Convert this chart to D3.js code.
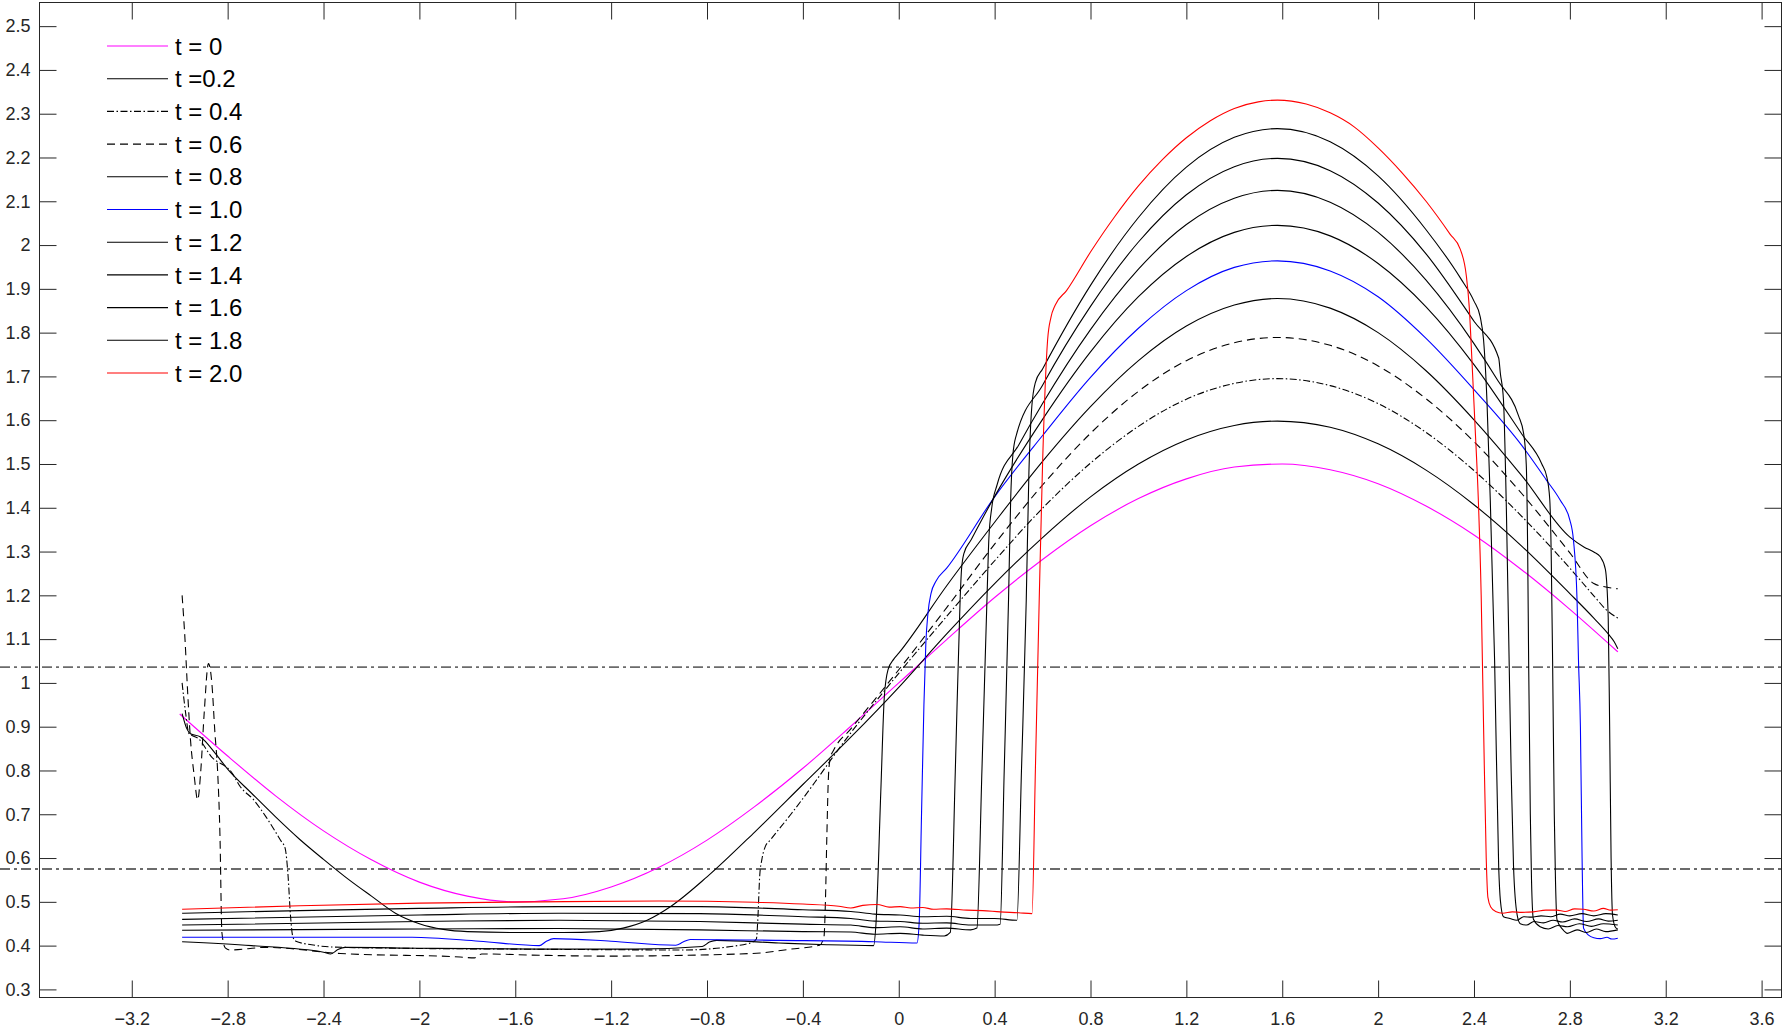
<!DOCTYPE html>
<html>
<head>
<meta charset="utf-8">
<script src="https://cdn.jsdelivr.net/npm/d3@7"></script>
<style>
body { margin: 0; background: #fff; }
svg { display: block; font-family: "Liberation Sans", Arial, Helvetica, sans-serif; }
</style>
</head>
<body>
<div id="chart"></div>
<script>
// tick values and labels
var xTicks = [-3.2, -2.8, -2.4, -2, -1.6, -1.2, -0.8, -0.4, 0, 0.4, 0.8, 1.2, 1.6, 2, 2.4, 2.8, 3.2, 3.6];
var xTickLabels = ["\u22123.2", "\u22122.8", "\u22122.4", "\u22122", "\u22121.6", "\u22121.2", "\u22120.8", "\u22120.4", "0", "0.4", "0.8", "1.2", "1.6", "2", "2.4", "2.8", "3.2", "3.6"];
var yTicks = [0.3, 0.4, 0.5, 0.6, 0.7, 0.8, 0.9, 1, 1.1, 1.2, 1.3, 1.4, 1.5, 1.6, 1.7, 1.8, 1.9, 2, 2.1, 2.2, 2.3, 2.4, 2.5];
var yTickLabels = ["0.3", "0.4", "0.5", "0.6", "0.7", "0.8", "0.9", "1", "1.1", "1.2", "1.3", "1.4", "1.5", "1.6", "1.7", "1.8", "1.9", "2", "2.1", "2.2", "2.3", "2.4", "2.5"];

// horizontal reference levels
var refLevels = [1.036, 0.575];

// legend
var legendLabels = ["t = 0", "t =0.2", "t = 0.4", "t = 0.6", "t = 0.8", "t = 1.0", "t = 1.2", "t = 1.4", "t = 1.6", "t = 1.8", "t = 2.0"];
var seriesColors = ["#ff00ff", "#000", "#000", "#000", "#000", "#0000ff", "#000", "#000", "#000", "#000", "#ff0000"];
var seriesDash = [null, null, "7,2.5,1.5,2.5", "8,5", null, null, null, null, null, null, null];

// curves, [x, u]
var t00 = [[-3.0,0.929],[-2.8,0.833],[-2.6,0.742],[-2.4,0.662],[-2.2,0.596],[-2.0,0.545],[-1.8,0.513],[-1.6,0.500],[-1.4,0.507],[-1.2,0.534],[-1.0,0.579],[-0.8,0.641],[-0.6,0.718],[-0.4,0.805],[-0.2,0.901],[0,1.0],[0.2,1.099],[0.4,1.195],[0.6,1.282],[0.8,1.359],[1.0,1.421],[1.2,1.466],[1.4,1.493],[1.6,1.500],[1.8,1.487],[2.0,1.455],[2.2,1.404],[2.4,1.338],[2.6,1.258],[2.8,1.168],[3.0,1.071]];

var t02 = [[-2.99,0.93],[-2.97,0.895],[-2.955,0.884],[-2.915,0.877],[-2.85,0.838],[-2.8,0.803],[-2.7,0.748],[-2.6,0.694],[-2.5,0.643],[-2.4,0.597],[-2.3,0.553],[-2.2,0.513],[-2.1,0.474],[-2.0,0.450],[-1.9,0.437],[-1.8,0.432],[-1.6,0.430],[-1.4,0.430],[-1.25,0.432],[-1.15,0.44],[-1.05,0.458],[-0.95,0.49],[-0.8,0.557],[-0.6,0.660],[-0.4,0.768],[-0.2,0.876],[0,0.99],[0.2,1.112],[0.4,1.227],[0.6,1.332],[0.8,1.425],[1.0,1.500],[1.2,1.555],[1.4,1.588],[1.58,1.598],[1.8,1.584],[2.0,1.546],[2.2,1.486],[2.4,1.407],[2.6,1.312],[2.8,1.204],[2.9,1.148],[2.96,1.112],[2.985,1.094],[3.0,1.078]];

var t04 = [[-2.99,1.0],[-2.975,0.93],[-2.962,0.885],[-2.92,0.872],[-2.87,0.833],[-2.78,0.793],[-2.75,0.765],[-2.69,0.732],[-2.64,0.694],[-2.58,0.641],[-2.56,0.622],[-2.548,0.56],[-2.538,0.47],[-2.528,0.42],[-2.515,0.41],[-2.45,0.402],[-2.37,0.397],[-2.08,0.394],[-1.6,0.392],[-1.32,0.391],[-0.9,0.390],[-0.7,0.398],[-0.61,0.408],[-0.594,0.415],[-0.588,0.46],[-0.58,0.56],[-0.571,0.597],[-0.557,0.626],[-0.536,0.641],[-0.45,0.70],[-0.35,0.773],[-0.272,0.833],[-0.2,0.886],[-0.1,0.955],[0,1.022],[0.2,1.152],[0.4,1.279],[0.6,1.399],[0.8,1.502],[1.0,1.586],[1.2,1.648],[1.4,1.684],[1.58,1.695],[1.8,1.679],[2.0,1.638],[2.2,1.572],[2.4,1.485],[2.6,1.380],[2.8,1.262],[2.9,1.199],[2.95,1.168],[3.0,1.148]];

var t06 = [[-2.99,1.2],[-2.978,1.10],[-2.967,0.98],[-2.955,0.87],[-2.94,0.79],[-2.925,0.733],[-2.912,0.80],[-2.898,0.93],[-2.88,1.044],[-2.866,1.0],[-2.853,0.885],[-2.842,0.80],[-2.832,0.65],[-2.824,0.43],[-2.81,0.395],[-2.79,0.390],[-2.64,0.396],[-2.33,0.382],[-1.83,0.374],[-1.77,0.372],[-1.74,0.381],[-1.5,0.378],[-1.22,0.376],[-0.61,0.382],[-0.45,0.392],[-0.33,0.401],[-0.312,0.42],[-0.306,0.5],[-0.3,0.65],[-0.293,0.79],[-0.285,0.83],[-0.272,0.846],[-0.2,0.895],[-0.1,0.962],[0,1.03],[0.2,1.172],[0.4,1.317],[0.6,1.452],[0.8,1.570],[1.0,1.666],[1.2,1.736],[1.4,1.777],[1.58,1.789],[1.8,1.771],[2.0,1.724],[2.2,1.649],[2.4,1.551],[2.6,1.432],[2.8,1.297],[2.9,1.227],[2.95,1.219],[3.0,1.215]];

var t08 = [[-2.99,0.409],[-2.7,0.400],[-2.4,0.385],[-2.37,0.381],[-2.34,0.391],[-2.31,0.396],[-2.0,0.394],[-1.5,0.392],[-1.1,0.392],[-0.82,0.398],[-0.79,0.408],[-0.76,0.412],[-0.5,0.406],[-0.3,0.402],[-0.105,0.40],[-0.095,0.45],[-0.075,0.75],[-0.06,0.97],[-0.045,1.03],[-0.02,1.055],[0,1.068],[0.2,1.222],[0.4,1.367],[0.6,1.506],[0.8,1.631],[1.0,1.736],[1.2,1.815],[1.4,1.863],[1.58,1.878],[1.8,1.856],[2.0,1.80],[2.2,1.713],[2.4,1.601],[2.6,1.473],[2.8,1.333],[2.86,1.31],[2.9,1.299],[2.927,1.288],[2.948,1.26],[2.96,1.15],[2.966,0.9],[2.972,0.6],[2.978,0.47],[2.99,0.442],[3.0,0.438]];

var t10 = [[-2.99,0.419],[-2.5,0.419],[-2.03,0.419],[-1.75,0.41],[-1.5,0.400],[-1.47,0.41],[-1.44,0.416],[-1.2,0.410],[-0.93,0.401],[-0.9,0.408],[-0.87,0.414],[-0.5,0.412],[-0.1,0.409],[0.076,0.406],[0.085,0.45],[0.095,0.7],[0.105,0.95],[0.113,1.09],[0.122,1.16],[0.135,1.205],[0.155,1.232],[0.2,1.262],[0.4,1.425],[0.6,1.565],[0.8,1.698],[1.0,1.81],[1.2,1.896],[1.4,1.949],[1.58,1.964],[1.8,1.941],[2.0,1.882],[2.2,1.787],[2.4,1.670],[2.6,1.542],[2.7,1.465],[2.76,1.417],[2.8,1.372],[2.815,1.326],[2.83,1.189],[2.836,1.052],[2.844,0.9],[2.851,0.6],[2.857,0.44],[2.878,0.424],[2.9,0.418],[2.927,0.416],[2.955,0.419],[2.975,0.415],[3.0,0.417]];

var t12 = [[-2.99,0.435],[-2.0,0.438],[-1.42,0.439],[-0.83,0.436],[-0.4,0.432],[-0.2,0.431],[-0.1,0.426],[0.006,0.428],[0.1,0.424],[0.19,0.422],[0.215,0.43],[0.236,0.8],[0.256,1.19],[0.262,1.26],[0.272,1.296],[0.3,1.325],[0.4,1.426],[0.6,1.602],[0.8,1.756],[1.0,1.882],[1.2,1.974],[1.4,2.029],[1.58,2.045],[1.8,2.021],[2.0,1.958],[2.2,1.859],[2.4,1.727],[2.6,1.568],[2.683,1.50],[2.704,1.47],[2.716,1.42],[2.722,1.3],[2.728,1.05],[2.735,0.7],[2.74,0.55],[2.746,0.46],[2.77,0.437],[2.79,0.428],[2.83,0.436],[2.87,0.43],[2.91,0.438],[2.95,0.432],[3.0,0.436]];

var t14 = [[-2.99,0.447],[-2.0,0.455],[-1.42,0.458],[-0.83,0.455],[-0.4,0.449],[-0.2,0.447],[-0.1,0.441],[0.006,0.443],[0.1,0.438],[0.2,0.44],[0.3,0.436],[0.326,0.44],[0.347,0.8],[0.368,1.19],[0.376,1.33],[0.388,1.40],[0.41,1.452],[0.5,1.543],[0.6,1.638],[0.8,1.807],[1.0,1.945],[1.2,2.047],[1.4,2.107],[1.58,2.125],[1.8,2.098],[2.0,2.029],[2.2,1.92],[2.4,1.775],[2.5,1.69],[2.586,1.61],[2.607,1.57],[2.618,1.50],[2.624,1.3],[2.628,1.05],[2.635,0.7],[2.64,0.55],[2.648,0.46],[2.676,0.443],[2.71,0.438],[2.75,0.446],[2.79,0.443],[2.84,0.45],[2.89,0.444],[2.94,0.45],[3.0,0.447]];

var t16 = [[-2.99,0.46],[-2.0,0.47],[-1.42,0.474],[-0.83,0.473],[-0.4,0.466],[-0.2,0.462],[-0.1,0.456],[0.006,0.455],[0.1,0.451],[0.2,0.452],[0.3,0.447],[0.4,0.447],[0.423,0.449],[0.44,0.8],[0.458,1.19],[0.467,1.42],[0.476,1.52],[0.49,1.565],[0.6,1.680],[0.8,1.860],[1.0,2.007],[1.2,2.115],[1.4,2.179],[1.58,2.198],[1.8,2.170],[2.0,2.096],[2.2,1.98],[2.4,1.826],[2.503,1.742],[2.51,1.707],[2.523,1.646],[2.535,1.4],[2.545,1.1],[2.555,0.8],[2.565,0.58],[2.58,0.47],[2.593,0.45],[2.62,0.447],[2.65,0.455],[2.69,0.452],[2.73,0.458],[2.77,0.454],[2.82,0.461],[2.87,0.455],[2.92,0.461],[2.96,0.456],[3.0,0.458]];

var t18 = [[-2.99,0.474],[-2.5,0.48],[-2.0,0.485],[-1.42,0.489],[-0.83,0.489],[-0.4,0.482],[-0.2,0.478],[-0.1,0.472],[0.006,0.47],[0.1,0.466],[0.2,0.467],[0.3,0.462],[0.4,0.462],[0.493,0.458],[0.512,0.8],[0.532,1.19],[0.543,1.48],[0.555,1.63],[0.57,1.686],[0.6,1.717],[0.8,1.908],[1.0,2.063],[1.2,2.178],[1.4,2.246],[1.58,2.266],[1.8,2.236],[2.0,2.158],[2.2,2.035],[2.343,1.925],[2.4,1.872],[2.426,1.836],[2.44,1.783],[2.454,1.646],[2.468,1.417],[2.486,1.052],[2.503,0.58],[2.51,0.504],[2.523,0.466],[2.55,0.462],[2.579,0.458],[2.607,0.466],[2.64,0.465],[2.68,0.468],[2.72,0.466],[2.76,0.472],[2.8,0.468],[2.85,0.473],[2.9,0.468],[2.95,0.473],[3.0,0.47]];

var t20 = [[-2.99,0.483],[-2.5,0.491],[-2.0,0.497],[-1.5,0.500],[-1.0,0.502],[-0.6,0.499],[-0.4,0.495],[-0.25,0.490],[-0.2,0.486],[-0.15,0.492],[-0.09,0.494],[-0.04,0.488],[0.006,0.489],[0.05,0.486],[0.1,0.487],[0.145,0.483],[0.2,0.484],[0.284,0.481],[0.35,0.480],[0.423,0.477],[0.5,0.475],[0.556,0.473],[0.57,0.8],[0.586,1.189],[0.6,1.5],[0.621,1.783],[0.635,1.835],[0.652,1.862],[0.7,1.896],[0.8,1.984],[0.9,2.064],[1.0,2.135],[1.1,2.195],[1.2,2.245],[1.3,2.284],[1.4,2.312],[1.5,2.327],[1.58,2.331],[1.7,2.322],[1.8,2.302],[1.9,2.27],[2.0,2.222],[2.1,2.165],[2.2,2.100],[2.3,2.025],[2.343,1.990],[2.368,1.93],[2.38,1.86],[2.392,1.73],[2.405,1.58],[2.418,1.42],[2.43,1.2],[2.44,0.9],[2.451,0.6],[2.458,0.51],[2.47,0.488],[2.49,0.478],[2.52,0.474],[2.56,0.477],[2.6,0.476],[2.648,0.477],[2.7,0.481],[2.746,0.481],[2.78,0.478],[2.82,0.484],[2.857,0.483],[2.9,0.479],[2.94,0.485],[2.97,0.481],[3.0,0.482]];

var curves = [t00, t02, t04, t06, t08, t10, t12, t14, t16, t18, t20];

var W = 1784, H = 1030;
var plot = {left: 39.5, right: 1781.5, top: 2.5, bottom: 997.5};

var x = d3.scaleLinear().domain([-3.585, 3.683]).range([plot.left, plot.right]);
var y = d3.scaleLinear().domain([0.2815, 2.554]).range([plot.bottom, plot.top]);

var svg = d3.select("#chart").append("svg")
	.attr("width", W)
	.attr("height", H);

svg.append("rect").attr("width", W).attr("height", H).attr("fill", "#fff");

svg.append("defs").append("clipPath").attr("id", "plotclip")
	.append("rect")
	.attr("x", plot.left).attr("y", plot.top)
	.attr("width", plot.right - plot.left)
	.attr("height", plot.bottom - plot.top);

// reference lines run across the whole figure
svg.selectAll(".ref")
	.data(refLevels)
	.enter().append("line")
	.attr("class", "ref")
	.attr("x1", 0).attr("x2", W)
	.attr("y1", d => y(d)).attr("y2", d => y(d))
	.style("stroke", "#6b6b6b")
	.style("stroke-width", 1.8)
	.style("stroke-dasharray", "10,4,3,4");

var line = d3.line()
	.x(d => x(d[0]))
	.y(d => y(d[1]))
	.curve(d3.curveMonotoneX);

svg.append("g").attr("clip-path", "url(#plotclip)")
	.selectAll(".curve")
	.data(curves)
	.enter().append("path")
	.attr("class", "curve")
	.attr("d", line)
	.style("fill", "none")
	.style("stroke", (d, i) => seriesColors[i])
	.style("stroke-width", 1.1)
	.style("stroke-dasharray", (d, i) => seriesDash[i]);

// axes, ticks inside on all four sides
var tick = 17;
function styleAxis(g) {
	g.attr("font-family", null).attr("font-size", null);
	g.select(".domain").remove();
	g.selectAll(".tick line").style("stroke", "#262626");
	g.selectAll(".tick text").style("fill", "#262626").style("font-size", "18px");
}

svg.append("g")
	.attr("transform", "translate(0," + plot.bottom + ")")
	.call(d3.axisBottom(x).tickValues(xTicks).tickFormat((d, i) => xTickLabels[i])
		.tickSizeInner(-tick).tickSizeOuter(0).tickPadding(15))
	.call(styleAxis);

svg.append("g")
	.attr("transform", "translate(0," + plot.top + ")")
	.call(d3.axisTop(x).tickValues(xTicks).tickFormat("").tickSizeInner(-tick).tickSizeOuter(0))
	.call(styleAxis);

svg.append("g")
	.attr("transform", "translate(" + plot.left + ",0)")
	.call(d3.axisLeft(y).tickValues(yTicks).tickFormat((d, i) => yTickLabels[i])
		.tickSizeInner(-tick).tickSizeOuter(0).tickPadding(9))
	.call(styleAxis);

svg.append("g")
	.attr("transform", "translate(" + plot.right + ",0)")
	.call(d3.axisRight(y).tickValues(yTicks).tickFormat("").tickSizeInner(-tick).tickSizeOuter(0))
	.call(styleAxis);

svg.append("rect")
	.attr("x", plot.left).attr("y", plot.top)
	.attr("width", plot.right - plot.left)
	.attr("height", plot.bottom - plot.top)
	.style("fill", "none")
	.style("stroke", "#262626")
	.style("stroke-width", 1);

// legend
var legend = svg.append("g").attr("class", "legend");
var rows = legend.selectAll(".item")
	.data(legendLabels)
	.enter().append("g")
	.attr("class", "item")
	.attr("transform", (d, i) => "translate(0," + (46 + i * 32.7) + ")");

rows.append("line")
	.attr("x1", 107).attr("x2", 168)
	.attr("y1", 0).attr("y2", 0)
	.style("stroke", (d, i) => seriesColors[i])
	.style("stroke-width", 1.1)
	.style("stroke-dasharray", (d, i) => seriesDash[i]);

rows.append("text")
	.attr("x", 175)
	.attr("dy", "0.36em")
	.style("font-size", "24px")
	.style("fill", "#000")
	.text(d => d);
</script>
</body>
</html>
